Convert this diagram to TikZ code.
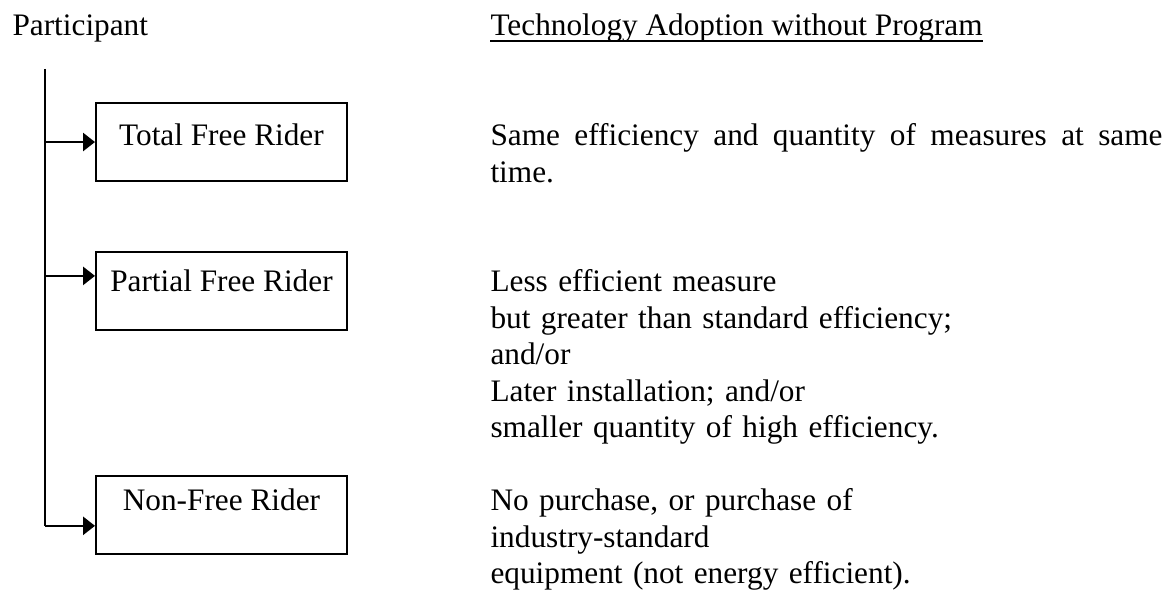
\documentclass[tikz,border=0pt]{standalone}
\usepackage{fontspec}
\setmainfont{Liberation Serif}
\usetikzlibrary{arrows.meta, positioning}
\tikzstyle{block} = [rectangle, draw, line width=0.75pt, minimum width=3.384cm,
  inner ysep=0pt, text height=15.9pt, text depth=14pt, align=center]
\tikzstyle{line} = [draw, line width=0.75pt, -{Triangle[length=4.6pt, width=7pt]}]

\begin{document}
\begin{tikzpicture}[node distance=2cm, font=\fontsize{12}{14}\selectfont]
    % Define styles for the text columns
    \tikzstyle{heading} = [inner sep=0pt, anchor=base west]
    \tikzstyle{desc} = [inner sep=0pt, anchor=base west, text width=9.06cm, align=left]

    \useasboundingbox (0,0) rectangle (15.816,-7.995);

    % Column headings
    \node [heading] (participant) at (0.162,-0.485) {Participant};
    \coordinate (desc_x) at (6.607,0);
    \node [heading] (adoption) at (participant.base -| desc_x) {Technology Adoption without Program};
    \draw [line width=0.75pt] ([yshift=-2pt]adoption.base west) -- ([yshift=-2pt]adoption.base east);

    % Place nodes
    \node [block, text height=16.3pt, text depth=13.6pt] (total_fr) at (2.986,-1.915) {Total Free Rider};
    \node [block, text height=15.2pt, text depth=14.7pt, below of=total_fr, node distance=2.01cm] (partial_fr) {Partial Free Rider};
    \node [block, text height=13.2pt, text depth=16.7pt, below of=partial_fr, node distance=3.02cm] (non_fr) {Non-Free Rider};

    % Descriptions
    \node [desc, align=justify] (total_desc) at (total_fr.base -| desc_x)
        {Same efficiency and quantity of measures at same\linebreak time.};
    \node [desc] (partial_desc) at (partial_fr.base -| desc_x)
        {Less efficient measure\\ but greater than standard efficiency;\\ and/or\\
         Later installation; and/or\\ smaller quantity of high efficiency.};
    \node [desc] (non_desc) at (non_fr.base -| desc_x)
        {No purchase, or purchase of\\ industry-standard\\ equipment (not energy efficient).};

    % Draw edges
    \coordinate (trunk_top) at (0.607,-0.93);
    \coordinate (tap_partial) at (0.607,-3.72);
    \coordinate (trunk_bot) at (0.607,-7.09);
    \draw [line width=0.75pt] (trunk_top) -- (trunk_bot);
    \path [line] (trunk_top |- total_fr.west) -- (total_fr.west);
    \path [line] (tap_partial) -- (tap_partial -| partial_fr.west);
    \path [line] (trunk_bot) -- (trunk_bot -| non_fr.west);
\end{tikzpicture}
\end{document}
